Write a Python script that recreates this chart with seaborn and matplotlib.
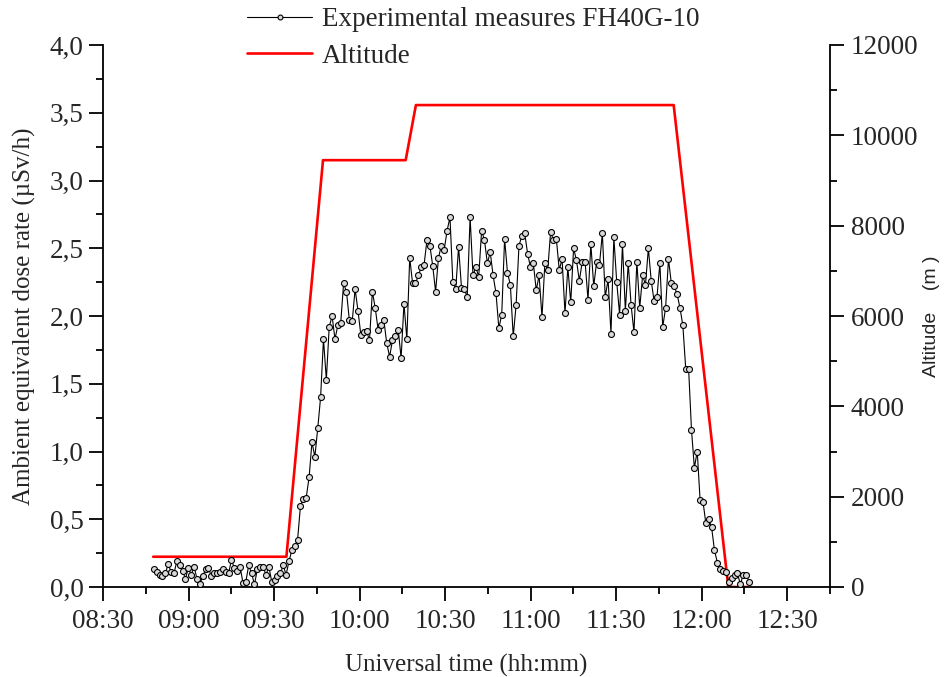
import numpy as np
import pandas as pd
import matplotlib
matplotlib.use("Agg")
import matplotlib.pyplot as plt
import matplotlib.dates as mdates
from matplotlib.ticker import MultipleLocator, FuncFormatter
from matplotlib.lines import Line2D
import seaborn as sns

# ---------------- data ----------------
dose_start = "2000-01-01 08:47:50"
dose_end = "2000-01-01 12:16:35"
dose_low = [0.13, 0.11, 0.09, 0.08, 0.10, 0.17, 0.11, 0.10, 0.19, 0.16, 0.12, 0.06,
            0.14, 0.09, 0.15, 0.06, 0.02, 0.08, 0.13, 0.14, 0.08, 0.10, 0.10, 0.11,
            0.13, 0.11, 0.10, 0.20, 0.14, 0.12, 0.15, 0.03, 0.04, 0.16, 0.10, 0.02,
            0.13, 0.15, 0.15, 0.09, 0.15, 0.04, 0.05, 0.08, 0.10, 0.16, 0.09]
dose_climb = [0.19, 0.27, 0.30, 0.35, 0.60, 0.65, 0.66, 0.81, 1.07, 0.96, 1.17, 1.40,
              1.83, 1.53, 1.92, 2.00, 1.83, 1.93, 1.95, 2.24, 2.18, 1.97, 1.96, 2.20,
              2.04, 1.86, 1.88, 1.89, 1.82, 2.18, 2.06, 1.90, 1.93, 1.97, 1.80, 1.70,
              1.82, 1.85, 1.90, 1.69, 2.09, 1.83, 2.43, 2.24, 2.24, 2.30, 2.36]
dose_cruise1 = [2.38, 2.56, 2.52, 2.37, 2.18, 2.43, 2.52, 2.49, 2.63, 2.73, 2.25, 2.20,
                2.51, 2.21, 2.20, 2.14, 2.73, 2.30, 2.36, 2.29, 2.63, 2.56, 2.39, 2.47,
                2.30, 2.17, 1.91, 2.01]
dose_cruise2 = [2.57, 2.32, 2.23, 1.85, 2.08, 2.52, 2.59, 2.61, 2.46, 2.36, 2.39, 2.19,
                2.30, 1.99, 2.39, 2.34, 2.62, 2.56, 2.57, 2.34, 2.42, 2.02, 2.36, 2.10,
                2.50, 2.41, 2.26, 2.40, 2.40, 2.12, 2.53, 2.22, 2.40, 2.38, 2.61, 2.14,
                2.27, 1.87, 2.58, 2.25, 2.01, 2.53, 2.04, 2.39, 2.08, 1.88, 2.40, 2.06,
                2.30, 2.23, 2.50, 2.26, 2.11, 2.14, 2.39, 1.92, 2.06, 2.42, 2.24, 2.22,
                2.16, 2.06]
dose_descent = [1.93, 1.61, 1.61, 1.16, 0.88, 1.00, 0.64, 0.63, 0.47, 0.50, 0.44, 0.27,
                0.18, 0.13, 0.12, 0.11, 0.04, 0.07, 0.09, 0.10, 0.02, 0.09, 0.09, 0.04]

alt_time = ["08:47:36", "09:34:20", "09:47:10", "10:16:10", "10:19:45",
            "11:50:10", "12:09:20", "12:15:50"]
alt_m = [670, 670, 9450, 9450, 10670, 10670, 0, 0]

# ---------------- build frames ----------------
dose = dose_low + dose_climb + dose_cruise1 + dose_cruise2 + dose_descent
dose_df = pd.DataFrame({
    "time": pd.date_range(dose_start, dose_end, periods=len(dose)),
    "dose": dose,
})
alt_df = pd.DataFrame({
    "time": pd.to_datetime(["2000-01-01 " + t for t in alt_time]),
    "alt": alt_m,
})

# ---------------- style ----------------
sns.set_style("ticks")
plt.rcParams["font.family"] = ["Liberation Serif", "DejaVu Serif"]

W, H = 945, 677
fig = plt.figure(figsize=(W / 100, H / 100), dpi=100)
ax = fig.add_axes([103 / W, 1 - 587 / H, (830 - 103) / W, (587 - 45) / H])
ax2 = ax.twinx()

sns.lineplot(data=alt_df, x="time", y="alt", ax=ax2, color="#ff0000",
             linewidth=1.9, zorder=2)
sns.lineplot(data=dose_df, x="time", y="dose", ax=ax, color="black", linewidth=0.8,
             marker="o", markersize=4.3, markerfacecolor="#d9d9d9",
             markeredgecolor="black", markeredgewidth=0.8, zorder=3)

ax.set_zorder(ax2.get_zorder() + 1)
ax.patch.set_visible(False)

x0 = pd.Timestamp("2000-01-01 08:30")
x1 = pd.Timestamp("2000-01-01 12:45")
ax.set_xlim(x0, x1)
ax.set_ylim(0, 4.0)
ax2.set_ylim(0, 12000)

ax.xaxis.set_major_locator(mdates.MinuteLocator(byminute=[0, 30]))
ax.xaxis.set_minor_locator(mdates.MinuteLocator(byminute=[15, 45]))
ax.xaxis.set_major_formatter(mdates.DateFormatter("%H:%M"))
ax.yaxis.set_major_locator(MultipleLocator(0.5))
ax.yaxis.set_minor_locator(MultipleLocator(0.25))
ax.yaxis.set_major_formatter(FuncFormatter(lambda v, p: f"{v:.1f}".replace(".", ",")))
ax2.yaxis.set_major_locator(MultipleLocator(2000))
ax2.yaxis.set_minor_locator(MultipleLocator(1000))

tick_fs = 19.5
for a in (ax, ax2):
    a.tick_params(which="major", direction="out", length=10, width=1.3,
                  labelsize=tick_fs, color="black")
    a.tick_params(which="minor", direction="out", length=5, width=1.3, color="black")
    a.spines["top"].set_visible(False)
    for s in a.spines.values():
        s.set_linewidth(1.3)
        s.set_color("black")
ax.spines["right"].set_visible(False)
ax2.spines["left"].set_visible(False)
ax2.spines["bottom"].set_visible(False)
ax.tick_params(axis="x", pad=6)
ax.tick_params(axis="y", pad=4)
ax2.tick_params(axis="y", pad=5)

ax.set_xlabel("Universal time (hh:mm)", fontsize=18, labelpad=14)
ax.set_ylabel("Ambient equivalent dose rate (µSv/h)", fontsize=18, labelpad=10)
ax2.set_ylabel("Altitude    (m )", fontsize=14, labelpad=3,
               family=["Liberation Sans", "DejaVu Sans"])

handles = [
    Line2D([], [], color="black", linewidth=0.8, marker="o", markersize=3.5,
           markerfacecolor="#d9d9d9", markeredgecolor="black", markeredgewidth=0.8),
    Line2D([], [], color="#ff0000", linewidth=1.9),
]
fig.legend(handles, ["Experimental measures FH40G-10", "Altitude"],
           loc="upper left", bbox_to_anchor=(242 / W, 1 - 2 / H), frameon=False,
           fontsize=tick_fs, handlelength=2.4, handletextpad=0.35, labelspacing=0.42,
           borderaxespad=0, borderpad=0.2)

fig.savefig("out.png", dpi=100)
